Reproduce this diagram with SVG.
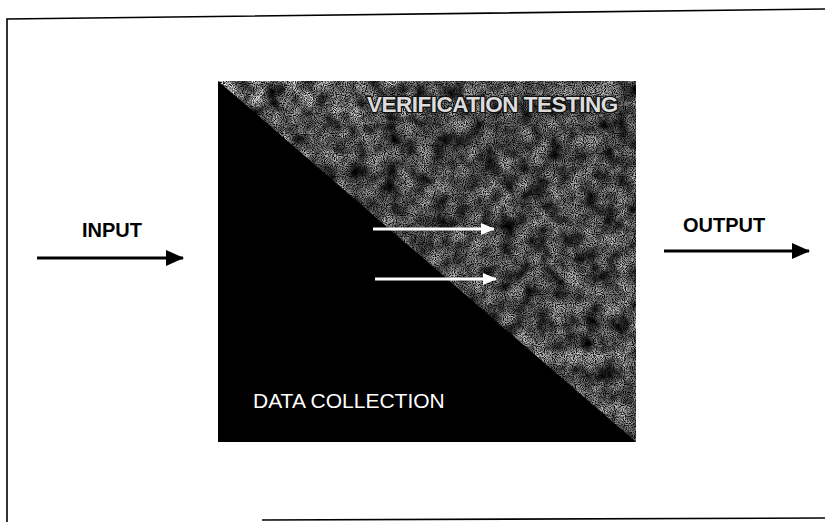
<svg xmlns="http://www.w3.org/2000/svg" width="825" height="522" viewBox="0 0 825 522">
  <style>
    .lbl { font-family: "Liberation Sans", Arial, sans-serif; font-weight: bold; font-size: 20px; fill: #000; }
    .flow { stroke: #000; stroke-width: 3; fill: none; }
    .inner { stroke: #fff; stroke-width: 3; fill: none; }
    .frame { stroke: #000; stroke-width: 1.6; fill: none; }
  </style>
  <defs>
    <marker id="headBlack" markerUnits="userSpaceOnUse" markerWidth="18" markerHeight="16" refX="17" refY="8" orient="auto">
      <path d="M0,0 L18,8 L0,16 Z" fill="#000"/>
    </marker>
    <marker id="headWhite" markerUnits="userSpaceOnUse" markerWidth="14" markerHeight="12" refX="13" refY="6" orient="auto">
      <path d="M0,0 L14,6 L0,12 Z" fill="#fff"/>
    </marker>
    <linearGradient id="shade" x1="0" y1="0" x2="0.3" y2="1">
      <stop offset="0" stop-color="#ffffff"/>
      <stop offset="0.3" stop-color="#b0b0b0"/>
      <stop offset="1" stop-color="#c4c4c4"/>
    </linearGradient>
    <filter id="grain" x="0" y="0" width="100%" height="100%" color-interpolation-filters="sRGB">
      <feTurbulence type="fractalNoise" baseFrequency="0.9" numOctaves="1" seed="4" result="fine"/>
      <feColorMatrix in="fine" type="matrix" result="fineGray"
        values="3 0 0 0 -0.85  3 0 0 0 -0.85  3 0 0 0 -0.85  0 0 0 0 1"/>
      <feTurbulence type="fractalNoise" baseFrequency="0.06" numOctaves="3" seed="9" result="coarse"/>
      <feColorMatrix in="coarse" type="matrix" result="coarseGray"
        values="1.7 0 0 0 -0.25  1.7 0 0 0 -0.25  1.7 0 0 0 -0.25  0 0 0 0 1"/>
      <feBlend in="fineGray" in2="coarseGray" mode="multiply" result="mix"/>
      <feBlend in="mix" in2="SourceGraphic" mode="multiply" result="tinted"/>
      <feComposite in="tinted" in2="SourceAlpha" operator="in"/>
    </filter>
    <clipPath id="upperTri">
      <polygon points="218,81 636,81 636,442"/>
    </clipPath>
  </defs>

  <!-- page frame -->
  <g id="frame">
    <polyline class="frame" points="7,522 7,19 825,9"/>
    <line class="frame" x1="262" y1="520" x2="825" y2="518"/>
  </g>

  <!-- central block: data collection / verification testing -->
  <g id="process-block">
    <rect x="218" y="81" width="418" height="361" fill="#000"/>
    <rect x="218" y="81" width="418" height="361" fill="url(#shade)" filter="url(#grain)" clip-path="url(#upperTri)"/>
    <text x="367" y="112" font-family="Liberation Sans, Arial, sans-serif" font-weight="bold" font-size="22.5" fill="#dcdcdc" stroke="#111" stroke-width="2.6" stroke-linejoin="round" paint-order="stroke" letter-spacing="-0.5">VERIFICATION TESTING</text>
    <text x="253" y="408" font-family="Liberation Sans, Arial, sans-serif" font-size="21" fill="#fff">DATA COLLECTION</text>
  </g>

  <g id="input">
    <text class="lbl" x="82" y="237">INPUT</text>
  </g>

  <g id="output">
    <text class="lbl" x="683" y="232">OUTPUT</text>
  </g>

  <g id="connectors">
    <line class="flow" x1="37" y1="258" x2="183" y2="258" marker-end="url(#headBlack)"/>
    <line class="flow" x1="664" y1="251" x2="809" y2="251" marker-end="url(#headBlack)"/>
    <line class="inner" x1="373" y1="229" x2="494" y2="229" marker-end="url(#headWhite)"/>
    <line class="inner" x1="375" y1="279" x2="496" y2="279" marker-end="url(#headWhite)"/>
  </g>
</svg>
